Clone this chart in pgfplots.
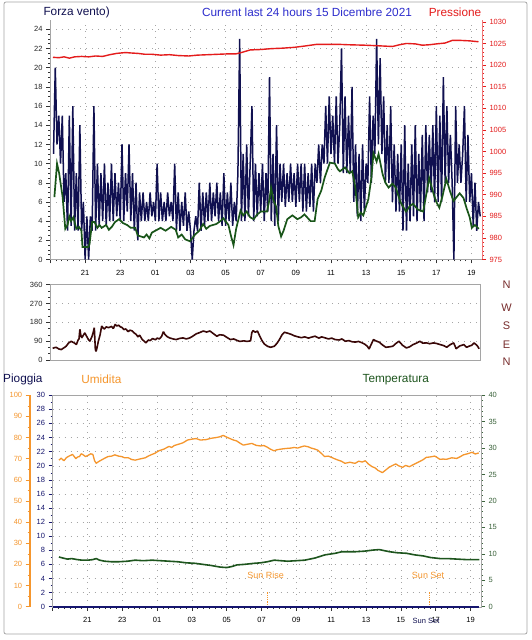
\documentclass[border=0pt]{standalone}
\usepackage{fontspec}
\setmainfont{Liberation Sans}
\usepackage{pgfplots}
\pgfplotsset{compat=1.18}
\usepackage{pgfplotstable}

\definecolor{navy}{RGB}{16,16,80}
\definecolor{windgreen}{RGB}{25,85,25}
\definecolor{pres}{RGB}{228,28,28}
\definecolor{dir}{RGB}{58,8,8}
\definecolor{hum}{RGB}{245,150,45}
\definecolor{temp}{RGB}{30,85,30}
\definecolor{tempax}{RGB}{60,100,60}
\definecolor{rain}{RGB}{22,22,110}
\definecolor{ttl}{RGB}{45,45,205}
\definecolor{axgray}{RGB}{165,165,165}
\definecolor{gridc}{RGB}{165,165,165}
\definecolor{nwse}{RGB}{120,45,45}

\pgfplotstableread{
x y
19.2 11
19.3 20
19.4 12
19.5 15
19.6 10
19.7 15
19.8 6
19.9 9
20.0 3
20.1 15
20.2 3.5
20.3 16
20.4 3
20.5 9
20.6 3
20.7 14
20.8 3
20.9 6
21.0 0
21.1 4.5
21.2 0
21.3 4.5
21.4 3
21.5 16
21.6 3
21.7 10
21.8 3.5
21.9 9
22.0 4
22.1 10
22.2 3.5
22.3 8
22.4 4
22.5 10
22.6 4
22.7 9
22.8 4.5
22.9 8
23.0 4
23.1 12
23.2 4
23.3 9
23.4 5
23.5 12
23.6 4
23.7 9
23.8 3
23.9 8
24.0 2
24.1 7
24.2 4
24.3 7
24.4 4
24.5 6
24.6 4
24.7 7
24.8 4.5
24.9 6
25.0 4
25.1 10
25.2 4
25.3 7
25.4 4
25.5 6
25.6 4
25.7 7
25.8 4.5
25.9 6
26.0 4
26.1 10
26.2 3
26.3 7
26.4 3
26.5 6
26.6 3.5
26.7 7
26.8 3
26.9 5
27.0 3
27.1 0
27.2 3
27.3 4.5
27.4 3
27.5 8
27.6 3
27.7 7
27.8 3.5
27.9 7
28.0 4
28.1 8
28.2 4
28.3 7
28.4 4.5
28.5 8
28.6 4
28.7 7
28.8 3.5
28.9 9
29.0 3.5
29.1 7
29.2 4
29.3 8
29.4 3.5
29.5 6
29.6 4
29.7 9
29.8 23
29.9 4
30.0 11
30.1 4
30.2 12
30.3 4.5
30.4 10
30.5 16
30.6 4
30.7 10
30.8 4.5
30.9 9
31.0 5
31.1 10
31.2 4
31.3 9
31.4 5
31.5 19
31.6 4
31.7 11
31.8 3.5
31.9 14
32.0 4
32.1 10
32.2 6
32.3 10
32.4 5.5
32.5 9
32.6 6
32.7 10
32.8 6
32.9 9
33.0 5.5
33.1 10
33.2 6
33.3 10
33.4 5
33.5 10
33.6 5
33.7 9
33.8 5.5
33.9 10
34.0 5
34.1 10
34.2 8
34.3 12
34.4 8
34.5 12
34.6 10
34.7 16
34.8 10
34.9 17
35.0 11
35.1 15
35.2 10
35.3 17
35.4 10
35.5 14
35.6 22
35.7 9
35.8 17
35.9 9
36.0 15
36.1 9
36.2 18
36.3 6
36.4 12
36.5 4.5
36.6 11
36.7 4
36.8 12
36.9 5
37.0 10
37.1 8
37.2 17
37.3 8
37.4 15
37.5 11
37.6 23
37.7 12
37.8 21
37.9 11
38.0 17
38.1 8
38.2 14
38.3 8
38.4 16
38.5 6
38.6 12
38.7 5
38.8 11
38.9 5
39.0 12
39.1 3
39.2 14
39.3 3
39.4 10
39.5 4
39.6 12
39.7 4.5
39.8 14
39.9 4
40.0 11
40.1 5
40.2 13
40.3 4
40.4 14
40.5 7
40.6 13
40.7 7
40.8 14
40.9 6
41.0 16
41.1 6
41.2 15
41.3 6
41.4 19
41.5 8
41.6 16
41.7 8
41.8 13
41.9 8
42.0 0
42.1 16
42.2 8
42.3 12
42.4 8
42.5 11
42.6 16
42.7 6
42.8 13
42.9 6
43.0 9
43.1 3.5
43.2 8
43.3 3
43.4 6
43.5 4.5
}\gusttable

\pgfplotstableread{
x y
19.25 6.5
19.40 10.0
19.52 9.0
19.64 7.5
19.72 6.5
19.87 3.2
20.00 3.6
20.10 4.5
20.20 4.0
20.33 4.4
20.50 3.2
20.65 3.4
20.79 3.0
20.85 1.3
21.19 1.3
21.25 1.6
21.40 3.9
21.54 3.9
21.70 3.3
21.82 3.6
21.94 3.3
22.20 3.6
22.35 3.1
22.52 3.4
22.70 3.9
22.93 4.2
23.15 3.8
23.39 3.6
23.60 3.3
23.85 3.3
24.00 2.5
24.35 2.3
24.50 2.6
24.66 2.2
24.80 2.8
25.00 3.0
25.30 3.3
25.58 3.0
25.90 3.4
26.16 3.1
26.30 2.3
26.50 2.6
26.70 2.1
26.97 1.9
27.26 2.6
27.50 3.0
27.72 3.7
27.90 3.2
28.10 3.5
28.47 3.7
28.70 4.0
28.87 4.3
29.16 3.6
29.30 2.5
29.45 1.5
29.60 3.2
29.85 5.1
30.00 4.6
30.20 5.0
30.40 4.4
30.60 4.2
30.80 4.7
31.01 5.0
31.36 5.0
31.50 6.3
31.59 7.5
31.72 6.2
31.88 5.5
32.00 3.5
32.16 2.4
32.30 3.0
32.51 4.2
32.80 4.6
33.09 4.2
33.30 4.4
33.49 4.7
33.84 4.0
34.07 4.0
34.24 6.3
34.45 7.2
34.65 8.6
34.94 10.1
35.22 10.0
35.40 9.4
35.51 9.2
35.80 9.6
36.05 9.0
36.21 9.2
36.38 7.6
36.55 4.4
36.70 4.9
36.84 4.6
37.13 6.3
37.30 8.5
37.42 11.1
37.60 10.2
37.71 11.0
37.94 8.9
38.10 8.0
38.28 7.5
38.50 7.9
38.69 7.5
38.95 6.0
39.27 5.0
39.50 5.6
39.67 5.8
39.95 5.2
40.25 5.0
40.45 7.0
40.59 8.5
40.85 6.8
41.00 6.0
41.17 5.4
41.35 6.6
41.57 8.4
41.80 7.0
41.98 6.1
42.15 6.5
42.33 6.9
42.55 6.4
42.73 5.3
42.90 4.4
43.02 3.3
43.20 3.6
43.31 3.4
43.42 3.2
}\avgtable

\pgfplotsset{
  base/.style={
    scale only axis, anchor=south west, clip=true,
    axis line style={axgray},
    tick align=outside, major tick length=4pt, minor tick length=2pt,
    tick style={black!80, line width=0.5pt},
    major grid style={gridc, dash pattern=on 0.8pt off 5.2pt},
    ticklabel style={font=\fontsize{7.5}{8}\selectfont},
    /pgf/number format/assume math mode=true,
    /pgf/number format/1000 sep={},
    xmin=19, xmax=43.6,
  },
  hours/.style={
    xtick={19,21,...,43},
    xticklabels={,21,23,01,03,05,07,09,11,13,15,17,19},
    minor x tick num=5,
  },
}

\begin{document}
\begin{tikzpicture}[x=1pt,y=1pt]
\fill[white] (0,0) rectangle (531,640);
\draw[axgray, line width=0.8pt, rounded corners=2pt] (4,6) rectangle (527,638);

% ---------- top panel: wind ----------
\begin{axis}[base, hours, at={(50pt,380.5pt)}, width=432pt, height=239.8pt,
  ymin=0, ymax=25, ytick={0,2,...,24}, minor y tick num=3,
  axis x line*=bottom, axis y line*=left,
  xmajorgrids, ymajorgrids,
  xticklabel style={yshift=-3pt},
  yticklabel style={black!85}]
\addplot[navy, line width=1.5pt, line join=bevel] table[x=x,y=y] {\gusttable};
\addplot[windgreen, line width=1.7pt] table[x=x,y=y] {\avgtable};
\end{axis}

\begin{axis}[base, at={(50pt,380.5pt)}, width=432pt, height=239.8pt,
  ymin=975, ymax=1030.5, ytick={975,980,...,1030}, minor y tick num=4,
  axis y line*=right, axis x line=none,
  y axis line style={pres!60},
  ytick style={pres}, yticklabel style={pres}]
\addplot[pres, line width=1.4pt] coordinates {
(19.17,1021.8) (19.5,1021.7) (19.8,1021.9) (20.1,1021.6) (20.4,1021.9) (20.8,1022.0)
(21.2,1021.9) (21.6,1022.1) (22.0,1022.0) (22.4,1022.4) (22.8,1022.7) (23.3,1022.9)
(23.6,1022.8) (24.0,1022.7) (24.4,1022.5) (24.8,1022.5) (25.3,1022.3) (25.8,1022.4)
(26.3,1022.2) (26.9,1022.1) (27.4,1022.3) (28.0,1022.4) (28.6,1022.5) (29.2,1022.6)
(29.6,1022.6) (29.9,1022.9) (30.4,1023.5) (31.0,1023.6) (31.6,1023.8) (32.2,1023.9)
(32.9,1024.1) (33.5,1024.4) (34.2,1024.8) (34.8,1024.8) (35.4,1024.8) (36.0,1024.7)
(36.9,1024.6) (37.5,1024.5) (38.0,1024.4) (38.5,1024.3) (38.9,1024.7) (39.3,1025.0)
(39.8,1024.9) (40.2,1024.6) (40.6,1024.7) (41.0,1024.9) (41.5,1025.1) (41.9,1025.7)
(42.4,1025.7) (42.9,1025.6) (43.4,1025.4)};
\end{axis}

% ---------- middle panel: wind direction ----------
\begin{axis}[base, at={(50pt,280.2pt)}, width=430pt, height=75.1pt,
  xmax=43.46, ymin=0, ymax=360, ytick={0,90,...,360}, minor y tick num=2,
  xtick=\empty, ytick pos=left, ymajorgrids,
  yticklabel style={black!85}]
\addplot[dir, line width=1.6pt, line join=bevel] coordinates {
(19.15,55) (19.25,58) (19.35,60) (19.5,52) (19.64,49) (19.8,58) (19.92,65) (20.05,80)
(20.21,89) (20.3,84) (20.4,80) (20.5,73) (20.6,95) (20.65,100) (20.7,146) (20.75,120)
(20.8,105) (20.9,118) (20.98,129) (21.1,110) (21.2,95) (21.27,89) (21.38,110)
(21.45,129) (21.52,154) (21.58,49) (21.62,40) (21.68,60) (21.75,89) (21.85,120)
(21.94,162) (22.05,150) (22.1,148) (22.2,158) (22.33,154) (22.5,160) (22.6,150)
(22.71,170) (22.8,162) (22.91,166) (23.0,158) (23.1,155) (23.2,145) (23.3,148)
(23.45,135) (23.55,142) (23.68,138) (23.8,128) (23.9,122) (24.0,110) (24.1,118)
(24.25,97) (24.35,90) (24.45,81) (24.6,95) (24.7,92) (24.83,102) (25.0,96)
(25.1,104) (25.22,100) (25.35,112) (25.45,135) (25.55,120) (25.65,112) (25.8,105)
(26.0,100) (26.18,97) (26.35,102) (26.56,105) (26.75,100) (26.95,105) (27.1,112)
(27.33,125) (27.5,130) (27.72,138) (27.9,133) (28.1,138) (28.3,125) (28.49,113)
(28.65,120) (28.87,118) (29.05,108) (29.26,97) (29.45,100) (29.64,93) (29.8,88)
(30.03,91) (30.2,88) (30.41,91) (30.48,130) (30.55,140) (30.68,132) (30.8,138)
(30.95,110) (31.08,89) (31.2,75) (31.37,65) (31.55,60) (31.76,65) (31.9,78)
(32.05,97) (32.2,120) (32.34,132) (32.5,128) (32.72,122) (32.9,115) (33.1,110)
(33.3,106) (33.49,110) (33.7,104) (33.85,108) (34.07,113) (34.3,104) (34.45,110)
(34.65,105) (34.85,100) (35.02,104) (35.22,97) (35.45,95) (35.6,100) (35.8,89)
(36.0,92) (36.2,86) (36.38,85) (36.55,88) (36.76,81) (36.9,75) (37.05,65) (37.15,52)
(37.25,70) (37.4,97) (37.55,90) (37.72,85) (37.9,72) (38.1,60) (38.3,62) (38.5,65)
(38.7,80) (38.85,89) (39.05,70) (39.27,57) (39.45,62) (39.65,73) (39.85,80) (40.04,89)
(40.2,80) (40.42,81) (40.6,77) (40.81,81) (41.0,78) (41.19,73) (41.4,68) (41.57,60)
(41.75,72) (41.96,81) (42.03,68) (42.1,53) (42.3,66) (42.54,73) (42.7,60) (42.83,65)
(43.0,70) (43.12,81) (43.3,68) (43.41,53)};
\end{axis}

% ---------- bottom panel ----------
\begin{axis}[base, hours, at={(52.5pt,33.3pt)}, width=428.5pt, height=211.5pt,
  ymin=0, ymax=30, ytick={0,2,...,30}, minor y tick num=1,
  xtick pos=bottom, ytick pos=left, clip=false,
  xmajorgrids, ymajorgrids,
  xticklabel style={yshift=-3pt},
  ytick style={rain}, yticklabel style={rain}]
\addplot[hum, line width=0.8pt, densely dotted] coordinates {(31.32,0) (31.32,2.1)};
\addplot[hum, line width=0.8pt, densely dotted] coordinates {(40.63,0) (40.63,2.1)};
\addplot[rain, line width=2pt] coordinates {(19.05,0) (43.5,0)};
\end{axis}

\begin{axis}[base, at={(29.7pt,33.3pt)}, width=450.8pt, height=211.5pt,
  xmin=17.69, xmax=43.6, ymin=0, ymax=100,
  ytick={0,10,...,100}, minor y tick num=1,
  axis y line*=left, axis x line=none,
  y axis line style={hum, line width=1.6pt},
  ytick style={hum}, yticklabel style={hum}]
\addplot[hum, line width=1.3pt, line join=bevel] coordinates {
(19.37,69.3) (19.5,70.2) (19.66,69) (19.8,70.5) (19.95,71.2) (20.15,72) (20.25,71)
(20.34,70) (20.45,70.8) (20.55,71) (20.65,72.3) (20.73,72) (20.9,71) (21.03,71.5)
(21.2,72.3) (21.32,72) (21.42,69) (21.51,67.8) (21.65,68.6) (21.8,69.3) (22.0,70.2)
(22.19,71) (22.4,71.2) (22.58,71.8) (22.8,71.2) (22.97,71) (23.15,70.4) (23.36,70.4)
(23.55,69.6) (23.75,69.3) (24.0,69.8) (24.33,70.4) (24.5,71.2) (24.72,72) (24.9,72.6)
(25.11,73.7) (25.4,74.5) (25.7,75.8) (25.85,75.3) (26.0,76.2) (26.28,76.9) (26.5,77.5)
(26.76,78.8) (27.0,79.2) (27.25,79.5) (27.5,78.8) (27.83,79) (28.1,79.6) (28.42,80)
(28.6,80.3) (28.81,81) (29.0,80.2) (29.2,79.5) (29.4,78.8) (29.58,78.4) (29.8,77.2)
(29.97,76.4) (30.2,76.8) (30.46,77.2) (30.7,76.3) (30.95,76) (31.15,76.2) (31.33,75.5)
(31.5,74.6) (31.73,73.7) (31.9,74.2) (32.12,74.5) (32.4,74.8) (32.7,75) (32.9,75.3)
(33.09,75) (33.3,75.6) (33.48,76) (33.7,75.6) (33.87,75) (34.05,74.6) (34.25,74)
(34.45,72.5) (34.64,71) (34.85,71.2) (35.04,70.6) (35.2,70.0) (35.42,69.3) (35.6,68.8)
(35.81,67.8) (36.1,68.3) (36.25,68.0) (36.4,67.8) (36.6,68.8) (36.8,68.4) (36.98,69)
(37.15,67.5) (37.37,66.2) (37.55,65.6) (37.7,64.5) (37.96,63.4) (38.15,64.6)
(38.34,65.9) (38.55,66.8) (38.73,67.5) (38.9,66.6) (39.12,65.9) (39.3,66.8)
(39.51,66.2) (39.8,67.4) (40.09,68.6) (40.3,69.5) (40.48,70.6) (40.7,70.8) (40.97,71.2)
(41.1,70.6) (41.26,69.7) (41.45,69.8) (41.65,69.7) (41.95,70.4) (42.23,70.1)
(42.45,71.0) (42.62,71.8) (42.85,72.3) (43.11,73) (43.3,72.2) (43.5,72.7)};
\end{axis}

\begin{axis}[base, at={(52.5pt,33.3pt)}, width=428.5pt, height=211.5pt,
  ymin=0, ymax=40, ytick={0,5,...,40}, minor y tick num=4,
  axis y line*=right, axis x line=none,
  ytick style={tempax}, yticklabel style={tempax}]
\addplot[temp, line width=1.6pt, line join=bevel] coordinates {
(19.37,9.4) (19.6,9.2) (19.86,9.0) (20.1,9.1) (20.44,8.9) (20.7,8.8) (21.03,8.8)
(21.3,8.9) (21.51,9.1) (21.7,8.8) (22.0,8.6) (22.4,8.5) (22.78,8.5) (23.3,8.6)
(23.75,8.8) (24.2,8.7) (24.72,8.8) (25.2,8.7) (25.7,8.6) (26.2,8.5) (26.67,8.3)
(27.2,8.2) (27.64,8.0) (28.1,7.8) (28.61,7.5) (29.0,7.4) (29.3,7.6) (29.58,7.9)
(30.0,8.0) (30.56,8.2) (30.95,8.3) (31.33,8.5) (31.73,8.8) (32.1,8.7) (32.5,8.6)
(33.0,8.7) (33.48,8.8) (34.06,9.2) (34.35,9.5) (34.64,9.8) (35.23,10.1) (35.62,10.4)
(36.0,10.4) (36.4,10.4) (36.9,10.5) (37.37,10.7) (37.76,10.8) (38.05,10.6) (38.34,10.4)
(38.8,10.2) (39.32,10.1) (39.8,9.8) (40.29,9.6) (40.7,9.3) (41.26,9.1) (41.7,9.1)
(42.23,9.0) (42.8,8.9) (43.5,8.9)};
\end{axis}

% ---------- texts ----------
\begin{scope}[every node/.style={font=\fontsize{11.8}{13}\selectfont, inner sep=0pt}]
\node[anchor=west, text=navy] at (43.3,628) {Forza vento)};
\node[text=ttl] at (307,628) {Current last 24 hours 15 Dicembre 2021};
\node[text=pres] at (455,628) {Pressione};
\node[anchor=west, text=navy] at (3,260.5) {Pioggia};
\node[anchor=west, text=hum] at (81.2,260.5) {Umidita};
\node[anchor=west, text=temp] at (362.4,260.5) {Temperatura};
\end{scope}
\begin{scope}[every node/.style={font=\fontsize{11}{12}\selectfont, inner sep=0pt, text=nwse}]
\node at (506.5,355.3) {N};
\node at (506.5,332.6) {W};
\node at (506.5,314.7) {S};
\node at (506.5,295.4) {E};
\node at (506.5,278.5) {N};
\end{scope}
\begin{scope}[every node/.style={font=\fontsize{9}{10}\selectfont, inner sep=0pt}]
\node[text=hum] at (265.6,64.9) {Sun Rise};
\node[text=hum] at (428,64.9) {Sun Set};
\node[text=navy] at (426,19.5) {\fontsize{7.5}{8}\selectfont Sun Set};
\end{scope}
\end{tikzpicture}
\end{document}
